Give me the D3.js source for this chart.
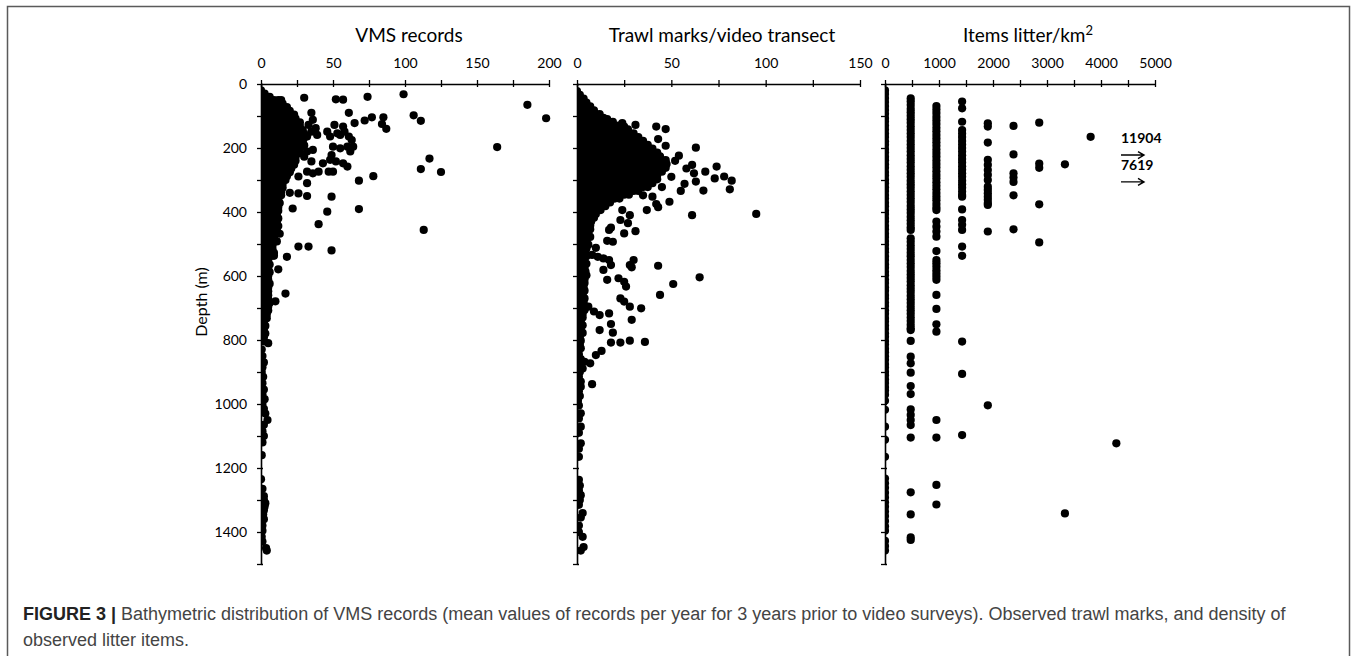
<!DOCTYPE html>
<html><head><meta charset="utf-8">
<script src="https://cdn.jsdelivr.net/npm/d3@7"></script>
<style>body{margin:0;background:#fff}svg{display:block}</style>
</head><body>
<svg id="c" width="1357" height="656"></svg>
<script>
// ---------------- DATA ----------------
const depthTicks = [0,100,200,300,400,500,600,700,800,900,1000,1100,1200,1300,1400,1500];
const depthLabels = [0,200,400,600,800,1000,1200,1400];
const vmsTicks = [0,25,50,75,100,125,150,175,200];
const vmsLabels = [0,50,100,150,200];
const trawlTicks = [0,25,50,75,100,125,150];
const trawlLabels = [0,50,100,150];
const litterTicks = [0,500,1000,1500,2000,2500,3000,3500,4000,4500,5000];
const litterLabels = [0,1000,2000,3000,4000,5000];

// VMS records: dense core rows [depth, [values]] and sparse points [value, depth]
const vmsDense = [
 [20,[0]],[30,[0,2.5]],[40,[0,3,6]],[50,[0,3,6,9,12]],[61,[0,3,6,9,12,15]],
 [72,[0,3,6,9,12,15,18]],[84,[0,3,6,9,12,15,18,20]],[96,[0,3,6,9,12,15,18,21,23]],
 [108,[0,3,6,9,12,15,18,21,24]],[120,[0,3,6,9,12,15,18,21,24,27]],[132,[0,3,6,9,12,15,18,21,24,27]],
 [144,[0,3,6,9,12,15,18,21,24,27,29]],[156,[0,3,6,9,12,15,18,21,24,27,30]],[168,[0,3,6,9,12,15,18,21,24,27,30]],
 [180,[0,3,6,9,12,15,18,21,24,27,29]],[192,[0,3,6,9,12,15,18,21,24,27,30]],[204,[0,3,6,9,12,15,18,21,24,27]],
 [216,[0,3,6,9,12,15,18,21,24,27]],[228,[0,3,6,9,12,15,18,21,24]],[240,[0,3,6,9,12,15,18,21,24]],
 [252,[0,3,6,9,12,15,18,21,23]],[264,[0,3,6,9,12,15,18,21]],[276,[0,3,6,9,12,15,18,20]],
 [288,[0,3,6,9,12,15,18]],[300,[0,3,6,9,12,15,17]],[312,[0,3,6,9,12,15]],[324,[0,3,6,9,12,15]],
 [336,[0,3,6,9,12,14]],[348,[0,3,6,9,12,14]],[360,[0,3,6,9,12]],[372,[0,3,6,9,12,13]],
 [384,[0,3,6,9,12]],[396,[0,3,6,9,12]],[408,[0,3,6,9,11]],[420,[0,3,6,9,12]],[432,[0,3,6,9,11]],
 [444,[0,3,6,9,12]],[456,[0,3,6,9,11]],[468,[0,3,6,9,13]],[480,[0,3,6,9]],[492,[0,3,6,9,11]],
 [504,[0,3,6,8]],[516,[0,3,6,8]],[528,[0,3,6,9]],[540,[0,3,6]],[552,[0,3,5]],[564,[0,3,6]],
 [576,[0,3,5]],[588,[0,3,6]],[600,[0,3,5]],[612,[0,3,5]],[624,[0,3,6]],[636,[0,3,5]],
 [648,[0,3,5]],[660,[0,3,5]],[672,[0,3,5]],[684,[0,3,6]],[696,[0,3,5]],[708,[0,3,5]],
 [720,[0,2,4]],[732,[0,2,4]],[744,[0,2]],[756,[0,2,3]],[768,[0,2]],[780,[0,2,3]],[792,[0,2]],[804,[0,2]]
];
const vmsSparse = [
 [30,43],[52,48],[57,49],[74,40],[99,32],[185,65],[198,107],[106,98],[111,115],[61,90],[65,122],
 [72,114],[77,104],[85,104],[84,125],[87,140],[164,197],[117,233],[111,266],[125,275],[68,302],
 [78,288],[49,352],[14,50],[35,90],[36,112],[33,128],[38,138],[35,149],[39,159],[32,164],[28,185],
 [32,211],[36,206],[30,227],[35,242],[46,149],[48,164],[51,128],[53,154],[55,159],[57,133],[58,149],
 [61,164],[63,175],[64,196],[62,211],[60,196],[55,201],[50,196],[49,222],[43,248],[48,237],[52,242],
 [57,248],[60,258],[50,274],[47,274],[40,274],[36,279],[32,274],[26,289],[32,310],[20,340],[26,342],
 [32,350],[22,389],[46,399],[68,391],[40,438],[113,456],[26,508],[33,508],[49,520],[18,540],[9,537],
 [12,579],[17,655],[10,679],[5,810],
 [0.5,830],[1,850],[2,870],[1,885],[0.5,900],[1.5,915],[1,935],[2,955],[1,970],[2.5,985],[1,1000],
 [2,1015],[3,1030],[4.5,1050],[2,1065],[1,1085],[2,1100],[1,1120],[0.5,1160],[0,1235],[1,1265],
 [2,1288],[2,1300],[3,1310],[2.5,1320],[2,1332],[1.5,1345],[2,1360],[1,1380],[1,1396],[0.5,1415],
 [1,1430],[3.5,1450],[4,1458]
];

// Trawl marks per video transect
const trawlDense = [
 [22,[0]],[34,[0,1.5]],[46,[0,2,3.5]],[58,[0,2.5,5]],[70,[0,2.5,5,7]],[82,[0,2.5,5,7.5,9]],
 [94,[0,2.5,5,7.5,10,12]],[106,[0,2.5,5,7.5,10,12.5,14]],[118,[0,2.5,5,7.5,10,12.5,15,17]],
 [130,[0,2.5,5,7.5,10,12.5,15,17.5,20,22]],
 [142,[0,2.5,5,7.5,10,12.5,15,17.5,20,22.5,25,27]],
 [154,[0,2.5,5,7.5,10,12.5,15,17.5,20,22.5,25,27.5,30]],
 [166,[0,2.5,5,7.5,10,12.5,15,17.5,20,22.5,25,27.5,30,32.5]],
 [178,[0,2.5,5,7.5,10,12.5,15,17.5,20,22.5,25,27.5,30,32.5,35]],
 [190,[0,2.5,5,7.5,10,12.5,15,17.5,20,22.5,25,27.5,30,32.5,35,37.5]],
 [202,[0,2.5,5,7.5,10,12.5,15,17.5,20,22.5,25,27.5,30,32.5,35,37.5,40]],
 [214,[0,2.5,5,7.5,10,12.5,15,17.5,20,22.5,25,27.5,30,32.5,35,37.5,40,42.5]],
 [226,[0,2.5,5,7.5,10,12.5,15,17.5,20,22.5,25,27.5,30,32.5,35,37.5,40,42.5,44]],
 [238,[0,2.5,5,7.5,10,12.5,15,17.5,20,22.5,25,27.5,30,32.5,35,37.5,40,42.5,45,47]],
 [250,[0,2.5,5,7.5,10,12.5,15,17.5,20,22.5,25,27.5,30,32.5,35,37.5,40,42.5,45,47.5]],
 [262,[0,2.5,5,7.5,10,12.5,15,17.5,20,22.5,25,27.5,30,32.5,35,37.5,40,42.5,45,47]],
 [274,[0,2.5,5,7.5,10,12.5,15,17.5,20,22.5,25,27.5,30,32.5,35,37.5,40,42.5,45]],
 [286,[0,2.5,5,7.5,10,12.5,15,17.5,20,22.5,25,27.5,30,32.5,35,37.5,40,42.5]],
 [298,[0,2.5,5,7.5,10,12.5,15,17.5,20,22.5,25,27.5,30,32.5,35,37.5,40,42.5]],
 [310,[0,2.5,5,7.5,10,12.5,15,17.5,20,22.5,25,27.5,30,32.5,35,37.5,40]],
 [322,[0,2.5,5,7.5,10,12.5,15,17.5,20,22.5,25,27.5,30,32.5,35,37.5]],
 [334,[0,2.5,5,7.5,10,12.5,15,17.5,20,22.5,25,27.5,30,32.5]],
 [346,[0,2.5,5,7.5,10,12.5,15,17.5,20,22.5,25,27.5]],
 [358,[0,2.5,5,7.5,10,12.5,15,17.5,20,22.5]],
 [370,[0,2.5,5,7.5,10,12.5,15,17.5]],
 [382,[0,2.5,5,7.5,10,12.5,15]],
 [394,[0,2.5,5,7.5,10,12.5]],
 [406,[0,2.5,5,7.5,10]],[418,[0,2.5,5,7.5,9]],[430,[0,2.5,5,7.5]],
 [442,[0,2.5,5,7]],[454,[0,2.5,5,7]],[466,[0,2.5,5,6]],[478,[0,2.5,5,7]],[490,[0,2.5,5]],
 [502,[0,2.5,5,6]],[514,[0,2.5,5]],[526,[0,2.5,4.5]],[538,[0,2.5,5]],[550,[0,2.5,4]],
 [562,[0,2.5,5]],[574,[0,2.5,4]],[586,[0,2.5,4.5]],[598,[0,2.5,5]],[610,[0,2,4]],[622,[0,2,4]],
 [634,[0,2,3.5]],[646,[0,2,4]],[658,[0,2,3]],[670,[0,2,4]],[682,[0,2,3.5]],[694,[0,2,3]],
 [706,[0,2,4]],[718,[0,2,3]],[730,[0,2,3]],[742,[0,2]],[754,[0,2,3]],[766,[0,2]],[778,[0,2,3]],
 [790,[0,1.5]],[802,[0,2]],[814,[0,1.5]],[826,[0,2]]
];
const trawlSparse = [
 [16,110],[19,118],[24,122],[25,133],[31,128],[42,133],[47,141],[43,172],[47,193],[63,199],[54,224],
 [58,264],[61,253],[62,279],[68,274],[74,258],[73,295],[78,289],[82,302],[81,329],[67,333],[55,334],
 [63,305],[52,240],[50,290],[57,312],[45,322],[40,352],[35,348],
 [49,368],[42,375],[43,385],[37,394],[61,410],[95,406],[31,460],[25,467],[24,394],[23,425],[27,435],
 [28,410],[18,449],[17,456],[19,493],[16,490],[10,512],[8,534],[11,540],[14,545],[17,550],[18,566],
 [30,550],[28,566],[29,573],[43,568],[14,581],[16,612],[22,607],[25,618],[26,633],[65,604],[51,625],
 [44,659],[23,670],[25,680],[28,696],[34,701],[29,737],[17,717],[12,722],[9,711],[6,696],[18,750],
 [19,777],[12,769],[18,808],[23,808],[28,802],[36,806],[13,834],[10,847],[7,873],[4,868],[3,889],
 [8,938],[2,946],
 [1,845],[2,860],[1,880],[1.5,900],[1,915],[2,930],[1,960],[1.5,975],[0.5,990],[1,1005],[2,1029],
 [1,1045],[2,1071],[1,1090],[2,1123],[1,1140],[1,1165],[1,1237],[1.5,1255],[1,1270],[2,1285],
 [1.5,1300],[1,1315],[3,1341],[2,1355],[1,1380],[1,1400],[3,1415],[3.5,1447],[2,1458]
];

// Litter items per km2: columns [value, [depths]]
const litterCols = [
 [0,[20,31,44,56,69,81,93,106,117,130,142,155,166,179,190,203,214,227,238,251,262,275,286,299,310,
     323,334,347,358,371,382,395,406,419,430,443,454,467,478,491,502,515,526,539,550,563,574,587,598,
     611,622,635,646,659,670,683,694,707,718,731,742,755,766,779,790,803,814,827,838,851,862,875,886,
     899,910,923,934,947,958,971,990,1018,1071,1112,1165,1233,1248,1262,1277,1292,1307,1321,1336,1350,
     1366,1382,1396,1428,1444,1458]],
 [476,[45,55,66,78,88,99,110,121,133,144,155,166,178,189,200,211,223,234,245,257,268,279,290,302,313,
       324,336,347,358,369,381,392,403,415,426,437,448,456,482,493,505,516,527,538,550,561,572,584,595,
       606,617,629,640,650,662,673,684,696,707,718,730,741,752,763,769,803,852,873,902,944,969,1017,1034,
       1050,1066,1105,1276,1345,1417,1425]],
 [952,[69,80,91,103,114,125,137,148,159,171,182,193,205,216,227,239,250,261,273,284,295,307,318,329,341,
       352,363,375,386,394,430,446,461,477,522,550,560,571,582,592,602,612,659,703,751,774,1050,1105,1253,1314]],
 [1428,[55,76,118,144,155,166,178,189,200,211,223,234,245,257,268,279,290,302,313,324,336,347,352,392,
        425,440,456,508,537,805,906,1097]],
 [1904,[123,133,183,237,253,269,284,300,321,331,342,352,362,372,378,461,1004]],
 [2380,[131,220,279,292,306,348,454]],
 [2856,[121,249,262,376,495]],
 [3332,[251,1342]],
 [3808,[165]],
 [4284,[1123]]
];
const offScale = [["11904",222],["7619",306]];

// ---------------- DRAW ----------------
const svg = d3.select('#c');
const font = "Lato, 'Open Sans', sans-serif";
svg.append('rect').attr('x',7.5).attr('y',6.5).attr('width',1342).attr('height',720)
  .attr('fill','none').attr('stroke','#5a5a5a').attr('stroke-width',1.5);

const y = d3.scaleLinear().domain([0,1500]).range([84,564]);

const flatRows = rows => rows.flatMap(([d,vals]) => vals.map(v => [v,d]));
const vmsPts = flatRows(vmsDense).concat(vmsSparse);
const trawlPts = flatRows(trawlDense).concat(trawlSparse);
const litterPts = litterCols.flatMap(([v,ds]) => ds.map(d => [v,d]));

const panels = [
 {title:"VMS records", tx:409, max:200, x0:261, x1:549, ticks:vmsTicks, labels:vmsLabels, pts:vmsPts, showY:true},
 {title:"Trawl marks/video transect", tx:722, max:150, x0:577, x1:860, ticks:trawlTicks, labels:trawlLabels, pts:trawlPts, showY:false},
 {title:"Items litter/km", sup:"2", tx:1028, max:5000, x0:885, x1:1155, ticks:litterTicks, labels:litterLabels, pts:litterPts, showY:false}
];

panels.forEach((p,i) => {
  const x = d3.scaleLinear().domain([0,p.max]).range([p.x0,p.x1]);
  const cid = 'clip'+i;
  svg.append('clipPath').attr('id',cid).append('rect')
    .attr('x',p.x0).attr('y',84).attr('width',p.x1-p.x0+30).attr('height',490);
  svg.append('g').attr('clip-path',`url(#${cid})`)
    .selectAll('circle').data(p.pts).join('circle')
    .attr('cx',d=>x(d[0])).attr('cy',d=>y(d[1])).attr('r',4.1).attr('fill','#000');

  svg.append('g').attr('transform','translate(0,84)')
    .call(d3.axisTop(x).tickValues(p.ticks).tickSize(4).tickSizeOuter(0).tickPadding(12)
      .tickFormat(d => p.labels.includes(d) ? d : ''));
  svg.append('g').attr('transform','translate(0,84)')
    .call(d3.axisTop(x).tickValues(p.ticks).tickSize(-3).tickSizeOuter(0).tickFormat(''))
    .select('.domain').remove();
  svg.append('g').attr('transform',`translate(${p.x0},0)`)
    .call(d3.axisLeft(y).tickValues(depthTicks).tickSize(4).tickSizeOuter(0).tickPadding(10)
      .tickFormat(d => (p.showY && depthLabels.includes(d)) ? d : ''));
  svg.append('g').attr('transform',`translate(${p.x0},0)`)
    .call(d3.axisLeft(y).tickValues(depthTicks).tickSize(-2).tickSizeOuter(0).tickFormat(''))
    .select('.domain').remove();

  const t = svg.append('text').attr('x',p.tx).attr('y',41.5).attr('text-anchor','middle')
    .attr('font-family',font).attr('font-size',19).attr('fill','#000').text(p.title);
  if (p.sup) t.append('tspan').attr('dy',-7).attr('font-size',13).text(p.sup);
});

svg.selectAll('.domain').attr('stroke','#000').attr('stroke-width',1.6);
svg.selectAll('.tick line').attr('stroke','#000').attr('stroke-width',1.3);
svg.selectAll('.tick text').attr('font-family',font).attr('font-size',14).attr('fill','#000');

svg.append('text').attr('transform','translate(201,302) rotate(-90)')
  .attr('text-anchor','middle').attr('dy','0.35em')
  .attr('font-family',font).attr('font-size',16).attr('fill','#000').text('Depth (m)');

offScale.forEach(([lab,d]) => {
  const ya = y(d);
  svg.append('text').attr('x',1121).attr('y',ya-12).attr('font-family',font)
    .attr('font-weight','bold').attr('font-size',14).attr('fill','#000').text(lab);
  svg.append('path').attr('d',`M1121,${ya}H1144M1138,${ya-3.5}L1144,${ya}L1138,${ya+3.5}`)
    .attr('stroke','#000').attr('stroke-width',1.4).attr('fill','none');
});

const capFont = "'Liberation Sans', Arial, sans-serif";
const cap = svg.append('text').attr('x',23).attr('y',620)
  .attr('font-family',capFont).attr('font-size',18).attr('fill','#444');
cap.append('tspan').attr('font-weight','bold').attr('fill','#222').text('FIGURE 3 |');
cap.append('tspan').text(' Bathymetric distribution of VMS records (mean values of records per year for 3 years prior to video surveys). Observed trawl marks, and density of');
svg.append('text').attr('x',23).attr('y',646)
  .attr('font-family',capFont).attr('font-size',18).attr('fill','#444')
  .text('observed litter items.');
</script>
</body></html>
